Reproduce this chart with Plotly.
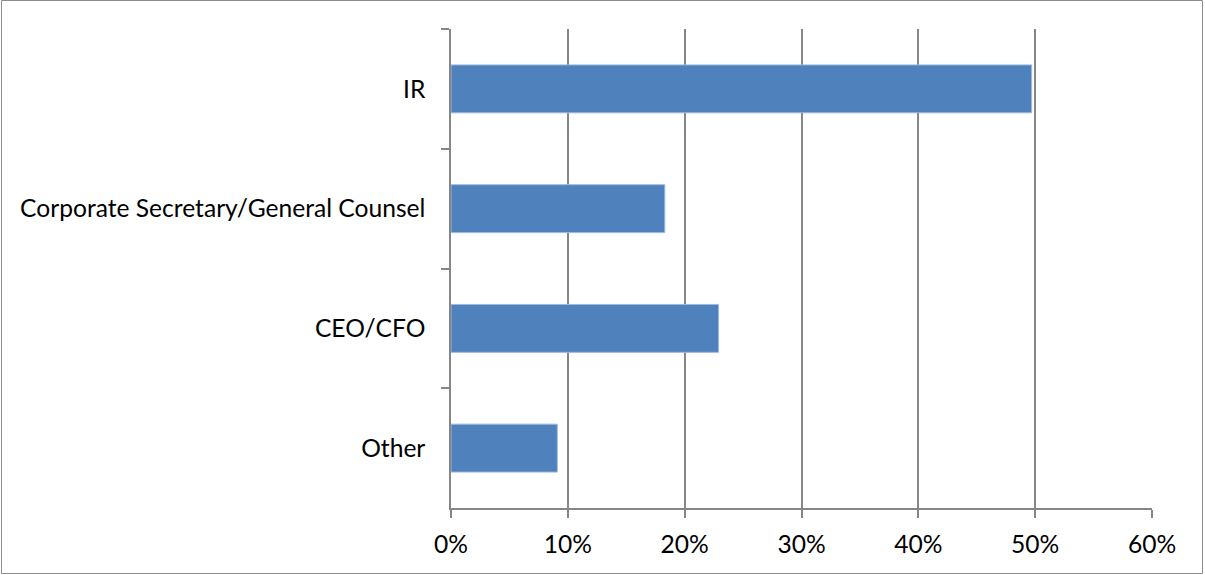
import plotly.graph_objects as go

# Share of responses by role
roles = ["IR", "Corporate Secretary/General Counsel", "CEO/CFO", "Other"]
shares = [0.497, 0.183, 0.229, 0.091]
x_ticks = [0, 0.1, 0.2, 0.3, 0.4, 0.5, 0.6]
x_tick_labels = ["0%", "10%", "20%", "30%", "40%", "50%", "60%"]

fig = go.Figure(
    go.Bar(
        y=roles,
        x=shares,
        orientation="h",
        width=0.4,
        marker=dict(color="#4F81BD", line=dict(color="#9DB9DF", width=1)),
        hoverinfo="skip",
    )
)

axis_grey = "#868686"
font = dict(family="Lato, Open Sans, sans-serif", size=24.6, color="#000000")

W, H = 1205, 575
L, R, T, B = 451, 53, 29, 67
pw, ph = W - L - R, H - T - B

fig.update_layout(
    width=W,
    height=H,
    margin=dict(l=L, r=R, t=T, b=B),
    paper_bgcolor="white",
    plot_bgcolor="white",
    showlegend=False,
    font=font,
    xaxis=dict(
        range=[0, 0.6],
        tickvals=x_ticks,
        ticktext=x_tick_labels,
        showgrid=True,
        gridcolor=axis_grey,
        gridwidth=1.5,
        showline=True,
        linecolor=axis_grey,
        linewidth=1.5,
        ticks="outside",
        ticklen=8,
        tickcolor=axis_grey,
        tickwidth=1.5,
        ticklabelstandoff=6,
        zeroline=False,
        fixedrange=True,
    ),
    yaxis=dict(
        type="category",
        categoryorder="array",
        categoryarray=roles,
        autorange="reversed",
        tickson="boundaries",
        showgrid=False,
        showline=True,
        linecolor=axis_grey,
        linewidth=1.5,
        ticks="outside",
        ticklen=8,
        tickcolor=axis_grey,
        tickwidth=1.5,
        ticklabelstandoff=19,
        zeroline=False,
        fixedrange=True,
    ),
    shapes=[
        # thin frame around the whole chart area
        dict(
            type="rect",
            xref="paper",
            yref="paper",
            x0=(1.5 - L) / pw,
            x1=(W - 2.5 - L) / pw,
            y0=-(B - 1.5) / ph,
            y1=1 + (T - 0.5) / ph,
            line=dict(color="#8C8C8C", width=1),
            layer="below",
        )
    ],
)

fig.write_html("out.html", config={"displayModeBar": False})
